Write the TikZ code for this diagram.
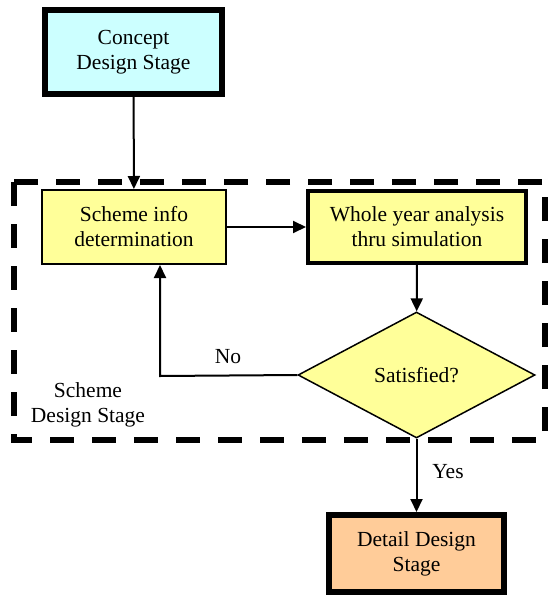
\documentclass[tikz,border=0pt]{standalone}
\usepackage{fontspec}
\setmainfont{Liberation Serif}
\usetikzlibrary{positioning, arrows.meta, shapes.geometric}
\definecolor{conceptCyan}{HTML}{CCFFFF}
\definecolor{schemeYellow}{HTML}{FFFF99}
\definecolor{detailOrange}{HTML}{FFCC99}

\begin{document}
\begin{tikzpicture}[x=1pt, y=-1pt,
    font=\fontsize{21.5}{25}\selectfont,
    stagebox/.style={draw, rectangle, align=center, inner sep=0pt},
    flow/.style={line width=2pt, -{Triangle[length=13pt, width=12pt]}}]
    \useasboundingbox (0,0) rectangle (547,597);

    % cadre en tirets de l'etape "scheme"
    \draw[line width=5.5pt, dash pattern=on 24pt off 18pt] (14,182) rectangle (545,440);
    \node[align=center] (schemeLabel) at (88,405) {Scheme\\Design Stage};

    \node[stagebox, fill=conceptCyan, line width=6pt, minimum width=177pt, minimum height=84pt]
      (concept) at (133.5,52) {Concept\\Design Stage};
    \node[stagebox, fill=schemeYellow, line width=2pt, minimum width=184pt, minimum height=74pt]
      (scheme) at (134,227) {Scheme info\\determination};
    \node[stagebox, fill=schemeYellow, line width=4pt, minimum width=218pt, minimum height=72pt]
      (whole) at (417,227) {Whole year analysis\\thru simulation};
    \node[draw, diamond, fill=schemeYellow, line width=1.5pt, inner sep=0pt, aspect=1.88,
      minimum width=237pt, minimum height=126pt]
      (satisfied) at (416.5,375) {Satisfied?};
    \node[stagebox, fill=detailOrange, line width=6pt, minimum width=175pt, minimum height=77pt]
      (detail) at (416.5,553.5) {Detail Design\\Stage};

    \draw[flow] (concept) -- (scheme);
    \draw[flow] (scheme) -- (whole);
    \draw[flow] (whole) -- (satisfied);
    \coordinate (noTurn) at (160,376);
    \draw[flow] (satisfied.west) -- (noTurn) -- (noTurn |- scheme.south);
    \node (noLabel) at (228,357) {No};
    \draw[flow] (satisfied.south) -- (detail.north);
    \node (yesLabel) at (448,472) {Yes};
  \end{tikzpicture}
\end{document}
